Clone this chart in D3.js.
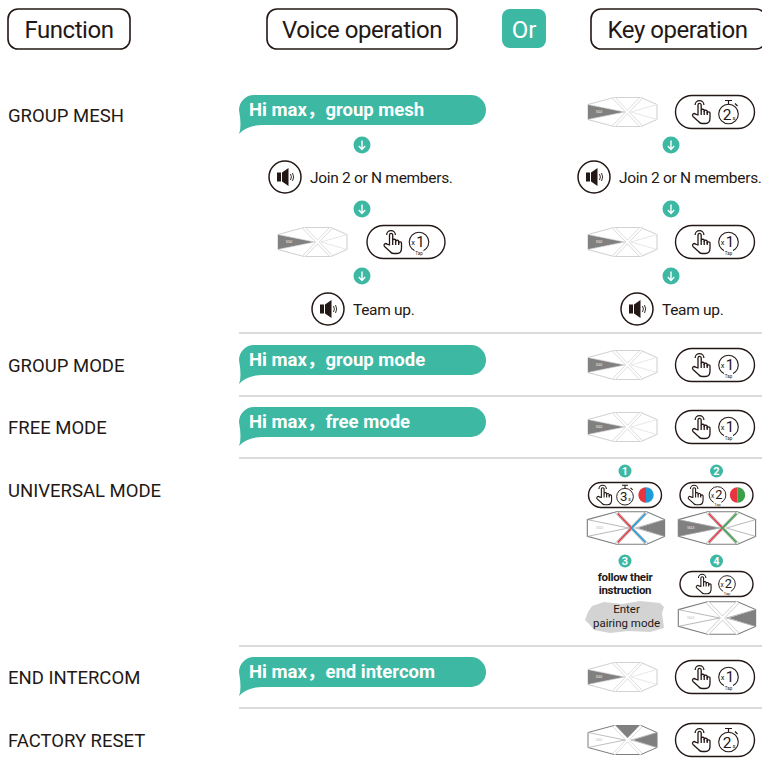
<!DOCTYPE html>
<html>
<head>
<meta charset="utf-8">
<script src="https://cdn.jsdelivr.net/npm/d3@7"></script>
<style>
html,body{margin:0;padding:0;background:#fff;overflow:hidden}
text{font-family:Roboto,"Noto Sans CJK SC",sans-serif;fill:#231815}
</style>
</head>
<body>
<script>
// table content
var headers = ["Function", "Voice operation", "Or", "Key operation"];
var functionNames = ["GROUP MESH", "GROUP MODE", "FREE MODE", "UNIVERSAL MODE", "END INTERCOM", "FACTORY RESET"];
var voiceCommands = ["Hi max，group mesh", "Hi max，group mode", "Hi max，free mode", null, "Hi max，end intercom", null];
var keyTimes = [["hold", 2], ["tap", 1], ["tap", 1], null, ["tap", 1], ["hold", 2]];
var keyLit = [["left"], ["left"], ["left"], null, ["left"], ["top", "right"]];
var prompts = ["Join 2 or N members.", "Team up."];
var universalSteps = [1, 2, 3, 4];
var universalKeys = [["hold", 3, ["#e8343f", "#1d9bd7"]], ["tap", 2, ["#e8343f", "#3aa048"]], null, ["tap", 2, null]];
var universalLit = [["right"], ["left"], null, ["right"]];
var universalRays = [["#e8343f", "#1d9bd7"], ["#e8343f", "#3aa048"], null, null];
var followText = ["follow their", "instruction"];
var pairingText = ["Enter", "pairing mode"];

var teal = "#3cb8a3", ink = "#231815";
var svg = d3.select("body").append("svg").attr("width", 762).attr("height", 766);

// scales
var rowY = d3.scaleOrdinal(functionNames, [115, 365, 427, 490, 677, 740]);
var colX = d3.scaleOrdinal(["voice", "voiceCentre", "voiceDev", "key", "keyPill", "keyCentre"], [239, 362, 317, 627, 715, 671]);
var meshY = d3.scaleOrdinal(["a1", "say1", "a2", "act", "a3", "say2"], [145, 177, 209, 242, 276, 309]);
var sepY = [333, 396, 458, 646, 708];
var stepX = d3.scaleOrdinal(universalSteps, [625, 716.5, 625, 716.5]);
var stepDevX = d3.scaleOrdinal(universalSteps, [631, 722, 631, 722]);
var stepBadgeY = d3.scaleOrdinal(universalSteps, [471, 471, 561, 561]);
var stepPillY = d3.scaleOrdinal(universalSteps, [495, 495, 584, 584]);
var stepDevY = d3.scaleOrdinal(universalSteps, [528, 528, 618, 618]);

function at(x, y, s) {
  return svg.append("g").attr("transform", "translate(" + x + "," + y + ")" + (s ? " scale(" + s + ")" : ""));
}

// header boxes
var headBox = d3.scaleOrdinal(headers, [[8, 122], [267, 190], [502, 44], [591, 175]]);
headers.forEach(function(h) {
  var b = headBox(h), or = h == "Or";
  svg.append("rect").attr("x", b[0]).attr("y", 9).attr("width", b[1]).attr("height", or ? 39 : 40)
    .attr("rx", or ? 8 : 10)
    .attr("fill", or ? teal : "#fff").attr("stroke", or ? "none" : ink).attr("stroke-width", 1.6);
  svg.append("text").attr("x", b[0] + b[1] / 2 - (h == "Key operation" ? 1 : 0)).attr("y", 38)
    .attr("text-anchor", "middle").attr("font-size", 24).attr("letter-spacing", or ? 0 : -0.45)
    .style("fill", or ? "#fff" : ink).text(h);
});

// separators
svg.selectAll("line.sep").data(sepY).enter().append("line").attr("class", "sep")
  .attr("x1", 239).attr("x2", 762).attr("y1", function(d) { return d; }).attr("y2", function(d) { return d; })
  .attr("stroke", "#cfcfcf").attr("stroke-width", 1.6);

// row labels
svg.selectAll("text.fn").data(functionNames).enter().append("text").attr("class", "fn")
  .attr("x", 8).attr("y", function(d) { return rowY(d) + 7; })
  .attr("font-size", 18.5).text(function(d) { return d; });

function bubble(name, text) {
  var y = rowY(name) - 20, x = colX("voice");
  var g = at(x, y);
  g.append("path").attr("fill", teal)
    .attr("d", "M15,0 H232 A15,15 0 0 1 232,30 H24 Q8,30 0,39 Q3,32 0,15 A15,15 0 0 1 15,0 Z");
  g.append("text").attr("x", 10).attr("y", 21).attr("font-size", 18.5).attr("font-weight", 700)
    .style("fill", "#fff").text(text);
}

function arrow(x, y) {
  var g = at(x, y);
  g.append("circle").attr("r", 8.5).attr("fill", teal);
  g.append("path").attr("d", "M0,-4.5 V4 M-3.2,1 L0,4.4 L3.2,1").attr("fill", "none")
    .attr("stroke", "#fff").attr("stroke-width", 1.4);
}

function badge(x, y, n) {
  var g = at(x, y);
  g.append("circle").attr("r", 6.5).attr("fill", teal);
  g.append("text").attr("text-anchor", "middle").attr("y", 4).attr("font-size", 11)
    .attr("font-weight", 700).style("fill", "#fff").text(n);
}

function speaker(x, y, text) {
  var g = at(x, y);
  g.append("circle").attr("r", 16).attr("fill", "#fff").attr("stroke", ink).attr("stroke-width", 1.5);
  g.append("rect").attr("x", -8).attr("y", -4.5).attr("width", 4).attr("height", 9).attr("fill", ink);
  g.append("path").attr("d", "M-3,-4.5 L3.5,-9 V9 L-3,4.5 Z").attr("fill", ink);
  g.append("path").attr("d", "M5.5,-3 Q7.3,0 5.5,3 M7.5,-4 Q9.9,0 7.5,4").attr("fill", "none").attr("stroke", ink).attr("stroke-width", 0.9);
  g.append("text").attr("x", 25).attr("y", 6).attr("font-size", 15.5).attr("letter-spacing", -0.3).text(text);
}

function hand(g, x, s) {
  var h = g.append("g").attr("transform", "translate(" + x + ",0) scale(" + s + ")")
    .attr("fill", "#fff").attr("stroke", ink).attr("stroke-width", 1.3).attr("stroke-linejoin", "round");
  h.append("path").attr("fill", "none").attr("d", "M-5.4,-7 A4.4,4.4 0 1 1 3.4,-7");
  h.append("path").attr("d", "M-2.5,3 V-7 A1.6,1.6 0 0 1 0.7,-7 V-1.5 A1.5,1.5 0 0 1 3.7,-1 V-0.5 A1.5,1.5 0 0 1 6.7,0 V1 A1.4,1.4 0 0 1 9.5,1.5 V6 Q9.5,11.5 5,11.5 H1.5 Q-0.5,11.5 -2,9.5 L-7.5,4.5 A1.6,1.6 0 0 1 -5,2.2 Z");
  h.append("path").attr("fill", "none").attr("d", "M0.7,-1.5 V3 M3.7,-1 V3 M6.7,0 V3");
}

function dial(g, x, kind, n, s) {
  var d = g.append("g").attr("transform", "translate(" + x + ",0) scale(" + s + ")");
  if (kind == "hold") {
    d.attr("transform", "translate(" + x + "," + 2 * s + ") scale(" + s + ")");
    d.append("path").attr("d", "M-3.5,-13.5 H3.5 M0,-13.5 V-9.8 M6.5,-10.5 L9,-8").attr("stroke", ink).attr("stroke-width", 1.2).attr("fill", "none");
    d.append("circle").attr("r", 9.8).attr("fill", "#fff").attr("stroke", ink).attr("stroke-width", 1.1);
    d.append("text").attr("x", -1.5).attr("y", 5.5).attr("text-anchor", "middle").attr("font-size", 15.5).text(n);
    d.append("text").attr("x", 5.5).attr("y", 5.5).attr("text-anchor", "middle").attr("font-size", 6).text("s");
  } else {
    d.append("circle").attr("r", 9.8).attr("fill", "#fff").attr("stroke", ink).attr("stroke-width", 1.1);
    d.append("text").attr("x", -5.8).attr("y", 3).attr("text-anchor", "middle").attr("font-size", 7.5).text("x");
    d.append("text").attr("x", 1.5).attr("y", 4.5).attr("text-anchor", "middle").attr("font-size", 15).text(n);
    d.append("rect").attr("x", -4.5).attr("y", 7.5).attr("width", 9).attr("height", 5.5).attr("fill", "#fff");
    d.append("text").attr("y", 13).attr("text-anchor", "middle").attr("font-size", 4.5).text("Tap");
  }
}

function pill(x, y, key, w, h) {
  var g = at(x, y);
  g.append("rect").attr("x", -w / 2).attr("y", -h / 2).attr("width", w).attr("height", h).attr("rx", h / 2)
    .attr("fill", "#fff").attr("stroke", ink).attr("stroke-width", 1.4);
  var s = h < 30 ? 0.85 : 1;
  if (key[2]) {
    hand(g, -w / 2 + 15, s);
    dial(g, key[0] == "hold" ? 0 : 1, key[0], key[1], s);
    var r = 7.7;
    g.append("path").attr("transform", "translate(" + (w / 2 - 15.5) + ",0)").attr("fill", key[2][0])
      .attr("d", "M0,-" + r + " A" + r + "," + r + " 0 0 0 0," + r + " Z");
    g.append("path").attr("transform", "translate(" + (w / 2 - 15.5) + ",0)").attr("fill", key[2][1])
      .attr("d", "M0,-" + r + " A" + r + "," + r + " 0 0 1 0," + r + " Z");
  } else {
    hand(g, -w / 2 + (h < 30 ? 23 : 25), s);
    dial(g, w / 2 - 26, key[0], key[1], s);
  }
}

// intercom unit seen from above, origin is where the strips cross
var segs = {
  left: "M-39,-7.5 L-2,0 L-39,7.5 Z",
  right: "M30,-7.5 L30,7.5 L6,0 Z",
  top: "M-13,-14.5 L14,-14.5 L0.5,-1 Z",
  bottom: "M-13,14.5 L14,14.5 L0.5,1 Z"
};
function device(x, y, lit, s, rays, dark) {
  var g = at(x, y, s);
  var edge = dark ? "#7d7d7d" : "#d2d2d2";
  g.append("path").attr("d", "M-39,-7.5 L-13,-14.5 L14,-14.5 L30,-7.5 V7.5 L14,14.5 L-13,14.5 L-39,7.5 Z")
    .attr("fill", "#fff").attr("stroke", edge).attr("stroke-width", dark ? 1 : 1.1);
  (lit || []).forEach(function(k) {
    g.append("path").attr("d", segs[k]).attr("fill", "#808080");
  });
  // thin spokes and the x-shaped strips
  g.append("path").attr("fill", "none").attr("stroke", dark ? "#a5a5a5" : "#dcdcdc").attr("stroke-width", 0.7)
    .attr("d", "M-39,-7.5 L-2,0 L-39,7.5 M30,-7.5 L4,0 L30,7.5");
  g.append("path").attr("fill", "none").attr("stroke", rays ? "#8a8a8a" : "#d0d0d0").attr("stroke-width", rays ? 2.6 : 3.2)
    .attr("d", "M-13,-14 L14,14 M14,-14 L-13,14");
  g.append("path").attr("fill", "none").attr("stroke", "#fff").attr("stroke-width", rays ? 1.6 : 1.9)
    .attr("d", "M-13,-14 L14,14 M14,-14 L-13,14");
  if (rays) {
    g.append("path").attr("fill", "none").attr("stroke", rays[0]).attr("stroke-width", 1.3)
      .attr("d", "M-12,-13 L0.5,0 L-12,13");
    g.append("path").attr("fill", "none").attr("stroke", rays[1]).attr("stroke-width", 1.3)
      .attr("d", "M13,-13 L0.5,0 L13,13");
  }
  g.append("text").attr("x", -31).attr("y", 1.2).attr("font-size", 3).style("fill", lit && lit[0] == "left" ? "#e4e4e4" : "#c4c4c4").text("MAX");
}

// voice column
functionNames.forEach(function(name, i) {
  if (voiceCommands[i]) bubble(name, voiceCommands[i]);
});
["a1", "a2", "a3"].forEach(function(a) {
  arrow(colX("voiceCentre"), meshY(a));
  arrow(colX("keyCentre"), meshY(a));
});
var saySideX = d3.scaleOrdinal(prompts, [[285, 594], [328, 637]]);
prompts.forEach(function(p, i) {
  var y = meshY(i ? "say2" : "say1");
  speaker(saySideX(p)[0], y, p);
  speaker(saySideX(p)[1], y, p);
});
device(colX("voiceDev"), meshY("act"), ["left"], 1);
pill(406, meshY("act"), ["tap", 1], 78, 33);
device(colX("key"), meshY("act"), ["left"], 1);
pill(colX("keyPill"), meshY("act"), ["tap", 1], 79, 33);

// key column
functionNames.forEach(function(name, i) {
  if (!keyTimes[i]) return;
  var y = i == 0 ? rowY(name) - 3 : rowY(name);
  device(colX("key"), y, keyLit[i], 1, null, i == 5);
  pill(colX("keyPill"), y, keyTimes[i], 79, 33);
});

// universal mode steps
universalSteps.forEach(function(st, i) {
  badge(stepX(st), stepBadgeY(st), st);
  if (universalKeys[i]) {
    pill(stepX(st), stepPillY(st), universalKeys[i], 73, 25);
    device(stepDevX(st), stepDevY(st), universalLit[i], 1.12, universalRays[i], true);
  }
});
followText.forEach(function(t, i) {
  svg.append("text").attr("x", stepX(3)).attr("y", 580.5 + i * 13.5).attr("text-anchor", "middle")
    .attr("font-size", 11.5).attr("letter-spacing", -0.3).attr("font-weight", 700).text(t);
});
svg.append("path").attr("fill", "#d3d3d3")
  .attr("d", "M592,606 L604,602 L622,604 L640,601 L660,603 L664,607 L662,613 L664,628 L650,632 L628,631 L610,633 L594,630 L590,625 L585,620 L588,612 Z");
pairingText.forEach(function(t, i) {
  svg.append("text").attr("x", stepX(3) + 1.5).attr("y", 613 + i * 13.5).attr("text-anchor", "middle")
    .attr("font-size", 11.5).text(t);
});
</script>
</body>
</html>
